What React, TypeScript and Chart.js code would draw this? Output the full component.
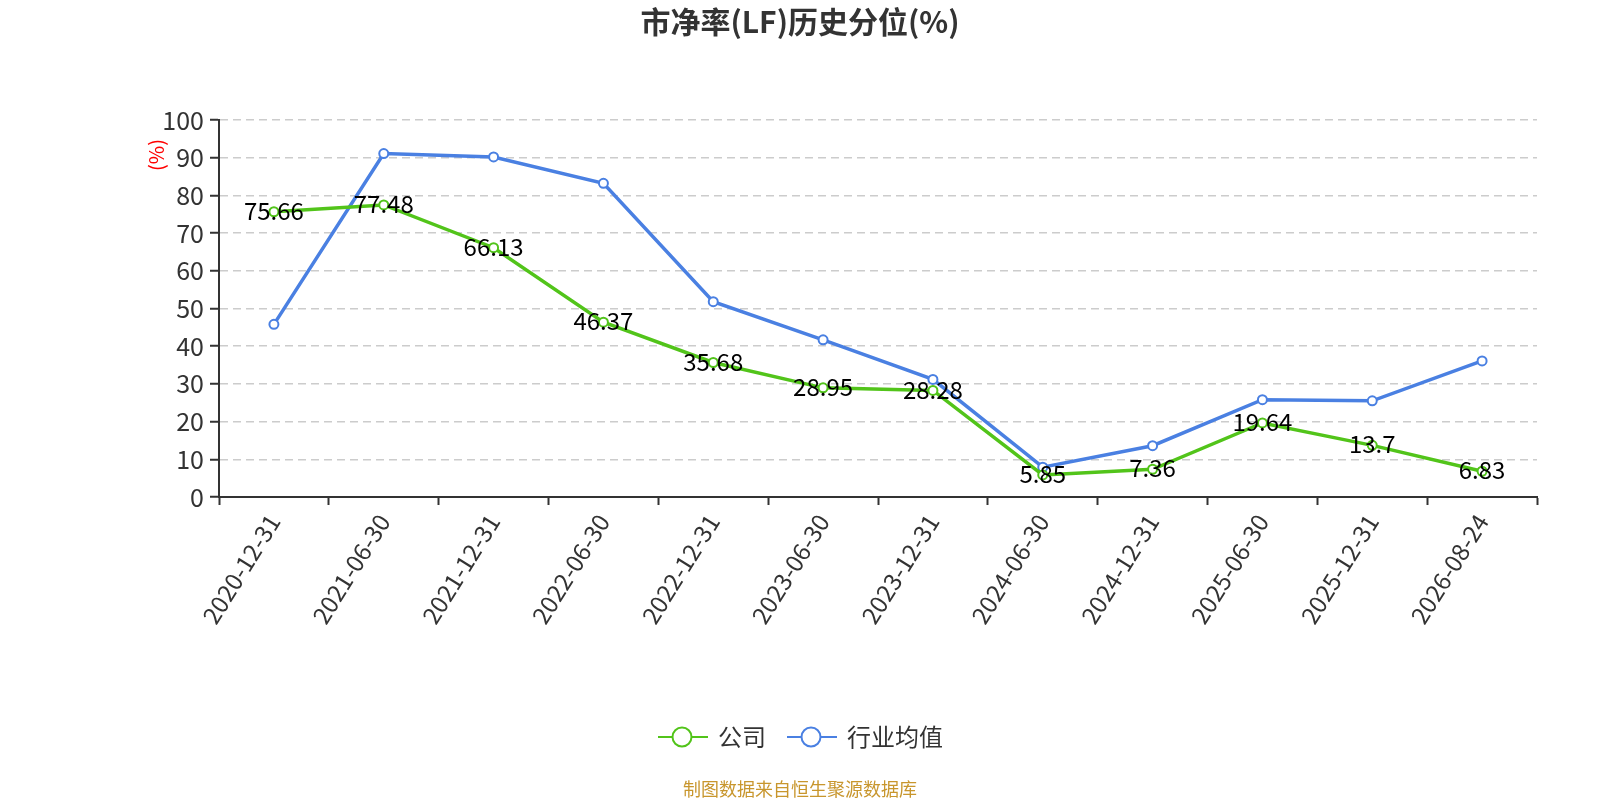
import React, { useRef, useEffect } from "react";
import { Chart, registerables } from "chart.js";

Chart.register(...registerables);

const categories = [
  "2020-12-31",
  "2021-06-30",
  "2021-12-31",
  "2022-06-30",
  "2022-12-31",
  "2023-06-30",
  "2023-12-31",
  "2024-06-30",
  "2024-12-31",
  "2025-06-30",
  "2025-12-31",
  "2026-08-24",
];
const companyValues = [75.66, 77.48, 66.13, 46.37, 35.68, 28.95, 28.28, 5.85, 7.36, 19.64, 13.7, 6.83];
const industryValues = [45.8, 91.1, 90.2, 83.2, 51.8, 41.7, 31.2, 7.9, 13.6, 25.8, 25.5, 36.1];

const GREEN = "#52C41A";
const BLUE = "#4A80E2";
const FONT = "'Noto Sans CJK SC', 'Noto Sans', sans-serif";

// little line-with-circle swatch for the legend
function makeSwatch(color: string) {
  const c = document.createElement("canvas");
  c.width = 50;
  c.height = 24;
  const g = c.getContext("2d")!;
  g.strokeStyle = color;
  g.lineWidth = 2;
  g.beginPath();
  g.moveTo(0, 12);
  g.lineTo(50, 12);
  g.stroke();
  g.fillStyle = "#fff";
  g.beginPath();
  g.arc(24, 12, 9.5, 0, Math.PI * 2);
  g.fill();
  g.stroke();
  return c;
}

const decorPlugin = {
  id: "decor",
  afterDatasetsDraw(chart: any) {
    const ctx = chart.ctx;
    // value labels on the company line
    const meta = chart.getDatasetMeta(0);
    ctx.save();
    ctx.font = `24px ${FONT}`;
    ctx.fillStyle = "#000";
    ctx.textAlign = "center";
    ctx.textBaseline = "middle";
    meta.data.forEach((pt: any, i: number) => {
      ctx.fillText(String(companyValues[i]), pt.x, pt.y - 1);
    });
    ctx.restore();
  },
  afterDraw(chart: any) {
    const ctx = chart.ctx;
    const mid = chart.width / 2;
    ctx.save();
    // title
    ctx.font = `bold 30px ${FONT}`;
    ctx.fillStyle = "#333";
    ctx.textAlign = "center";
    ctx.textBaseline = "middle";
    ctx.fillText("市净率(LF)历史分位(%)", mid, 22);

    // y axis unit
    ctx.save();
    ctx.translate(156, 155);
    ctx.rotate(-Math.PI / 2);
    ctx.font = `20px ${FONT}`;
    ctx.fillStyle = "#f00";
    ctx.fillText("(%)", 0, 0);
    ctx.restore();

    // legend
    ctx.font = `24px ${FONT}`;
    ctx.textAlign = "left";
    ctx.fillStyle = "#333";
    const ly = 737;
    const items = [
      { label: "公司", color: GREEN, x: 658 },
      { label: "行业均值", color: BLUE, x: 787 },
    ];
    items.forEach((it) => {
      ctx.drawImage(makeSwatch(it.color), it.x, ly - 12);
      ctx.fillText(it.label, it.x + 60, ly);
    });

    // source
    ctx.font = `18px ${FONT}`;
    ctx.textAlign = "center";
    ctx.fillStyle = "#C8962D";
    ctx.fillText("制图数据来自恒生聚源数据库", mid, 789);
    ctx.restore();
  },
};

const App: React.FC = () => {
  const chartRef = useRef<HTMLCanvasElement>(null);
  const chartInstanceRef = useRef<Chart | null>(null);

  useEffect(() => {
    const ctx = chartRef.current?.getContext("2d");
    if (!ctx) return;

    if (chartInstanceRef.current) {
      chartInstanceRef.current.destroy();
    }

    chartInstanceRef.current = new Chart(ctx, {
      type: "line",
      data: {
        labels: categories,
        datasets: [
          {
            label: "公司",
            data: companyValues,
            borderColor: GREEN,
            backgroundColor: "#fff",
            borderWidth: 3.5,
            pointRadius: 4.5,
            pointBorderWidth: 2,
            pointBackgroundColor: "#fff",
            pointBorderColor: GREEN,
            tension: 0,
          },
          {
            label: "行业均值",
            data: industryValues,
            borderColor: BLUE,
            backgroundColor: "#fff",
            borderWidth: 3.5,
            pointRadius: 4.5,
            pointBorderWidth: 2,
            pointBackgroundColor: "#fff",
            pointBorderColor: BLUE,
            tension: 0,
          },
        ],
      },
      options: {
        responsive: true,
        maintainAspectRatio: false,
        animation: false,
        layout: {
          padding: { left: 0, top: 120, right: 63, bottom: 0 },
        },
        plugins: {
          legend: { display: false },
          title: { display: false },
          tooltip: { enabled: false },
        },
        scales: {
          x: {
            offset: true,
            afterFit: (scale: any) => {
              scale.height = 303;
            },
            grid: {
              display: true,
              drawOnChartArea: false,
              drawTicks: true,
              offset: true,
              tickLength: 8,
              tickColor: "#333",
              tickWidth: 2,
            },
            border: { display: true, color: "#333", width: 2 },
            ticks: {
              minRotation: 58,
              maxRotation: 58,
              autoSkip: false,
              padding: 4,
              color: "#333",
              font: { family: FONT, size: 24 },
            },
          },
          y: {
            min: 0,
            max: 100,
            afterFit: (scale: any) => {
              scale.width = 219;
            },
            grid: {
              color: "#cccccc",
              lineWidth: 1.5,
              tickLength: 9,
              tickColor: "#333",
              tickWidth: 2,
            },
            border: { display: true, color: "#333", width: 2, dash: [8, 5] },
            ticks: {
              stepSize: 10,
              padding: 6,
              color: "#333",
              font: { family: FONT, size: 25 },
            },
          },
        },
      },
      plugins: [decorPlugin],
    });

    return () => {
      if (chartInstanceRef.current) {
        chartInstanceRef.current.destroy();
        chartInstanceRef.current = null;
      }
    };
  }, []);

  return (
    <div style={{ position: "absolute", left: 0, top: 0, width: "1600px", height: "800px" }}>
      <canvas ref={chartRef} />
    </div>
  );
};

export default App;
